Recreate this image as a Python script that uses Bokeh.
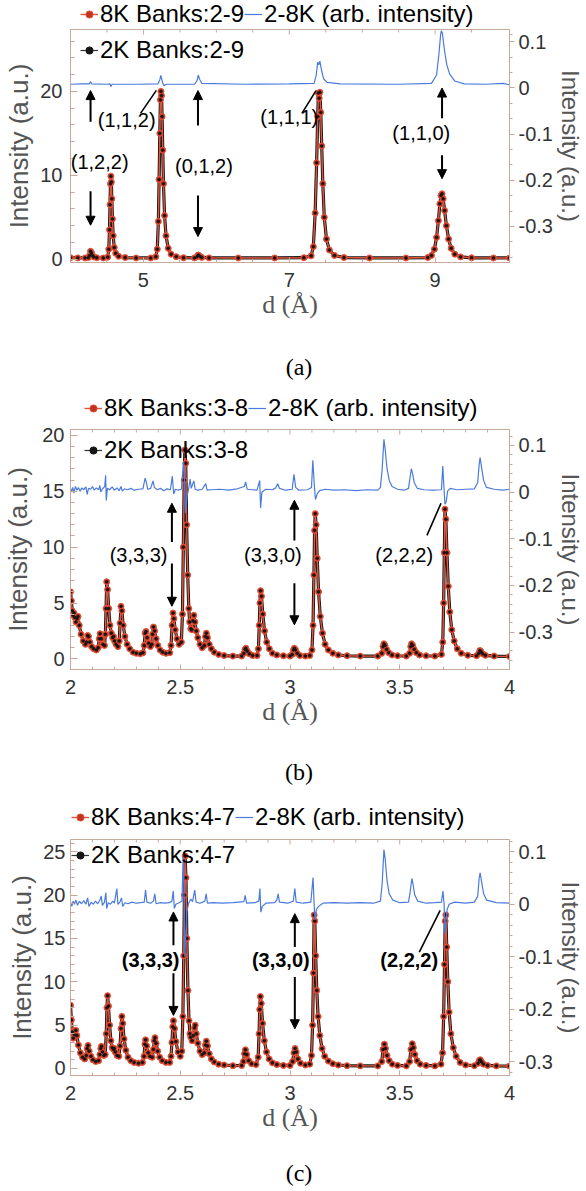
import math
from bokeh.plotting import figure
from bokeh.layouts import column
from bokeh.models import (Range1d, LinearAxis, FixedTicker, CustomJSTickFormatter,
                          Label, Arrow, NormalHead, Legend, LegendItem, Div)
from bokeh.embed import file_html
from bokeh.resources import INLINE

# ---------------- DATA ----------------
# Panel (a): d (Angstrom), 8K intensity (left axis)
red_a = [(4.00, 0.18), (4.10, 0.16), (4.20, 0.15), (4.245, 0.2), (4.262, 0.45), (4.275, 0.95),
         (4.288, 0.75), (4.30, 0.45), (4.32, 0.28), (4.36, 0.18), (4.45, 0.15), (4.51, 0.25),
         (4.525, 1.2), (4.535, 3.5), (4.542, 6.5), (4.548, 9.0), (4.554, 9.9), (4.560, 9.2),
         (4.567, 7.2), (4.575, 4.8), (4.585, 2.8), (4.60, 1.4), (4.62, 0.7), (4.66, 0.35),
         (4.75, 0.2), (4.90, 0.15), (5.10, 0.15), (5.17, 0.3), (5.19, 1.2), (5.205, 4.5),
         (5.215, 9.5), (5.225, 15.0), (5.233, 19.0), (5.240, 20.0), (5.248, 19.5), (5.256, 17.0),
         (5.265, 13.0), (5.275, 9.0), (5.29, 5.2), (5.31, 2.8), (5.34, 1.3), (5.38, 0.6),
         (5.45, 0.3), (5.55, 0.18), (5.70, 0.16), (5.735, 0.3), (5.752, 0.5), (5.77, 0.38),
         (5.80, 0.22), (5.90, 0.16), (6.30, 0.15), (6.80, 0.15), (7.20, 0.18), (7.30, 0.4),
         (7.33, 1.5), (7.355, 5.5), (7.375, 11.5), (7.39, 17.0), (7.40, 19.8), (7.41, 19.2),
         (7.42, 19.9), (7.432, 17.5), (7.445, 13.5), (7.46, 9.0), (7.48, 5.0), (7.51, 2.4),
         (7.55, 1.1), (7.62, 0.45), (7.75, 0.2), (8.10, 0.15), (8.60, 0.15), (8.90, 0.2),
         (8.95, 0.45), (8.99, 1.2), (9.02, 2.6), (9.045, 4.6), (9.065, 6.6), (9.08, 7.6),
         (9.095, 7.8), (9.11, 7.2), (9.13, 5.8), (9.155, 4.0), (9.185, 2.4), (9.22, 1.3),
         (9.27, 0.6), (9.35, 0.28), (9.50, 0.17), (9.80, 0.15), (10.02, 0.15)]
# Panel (a): 2-8K difference (right axis)
blue_a = [(4.00, 0.008), (4.15, 0.009), (4.26, 0.009), (4.275, 0.014), (4.29, 0.009), (4.50, 0.008),
          (4.54, 0.009), (4.555, 0.003), (4.57, 0.008), (4.90, 0.008), (5.20, 0.009), (5.225, 0.018),
          (5.238, 0.027), (5.25, 0.02), (5.262, 0.012), (5.28, 0.005), (5.32, 0.008), (5.70, 0.008),
          (5.735, 0.016), (5.752, 0.028), (5.77, 0.019), (5.80, 0.010), (6.40, 0.008), (7.00, 0.009),
          (7.34, 0.010), (7.37, 0.028), (7.39, 0.056), (7.405, 0.05), (7.42, 0.058), (7.44, 0.040),
          (7.47, 0.02), (7.52, 0.012), (7.70, 0.009), (8.50, 0.008), (8.95, 0.010), (9.02, 0.028),
          (9.05, 0.07), (9.075, 0.115), (9.086, 0.124), (9.10, 0.118), (9.13, 0.08), (9.16, 0.05),
          (9.20, 0.03), (9.27, 0.015), (9.40, 0.009), (9.70, 0.008), (9.93, 0.010), (10.02, 0.007)]

# Panel (b)
red_b = [(2.000, 6.0), (2.004, 5.2), (2.008, 4.3), (2.012, 3.9), (2.016, 4.1), (2.020, 3.7),
         (2.025, 3.3), (2.030, 3.6), (2.034, 3.8), (2.040, 3.0), (2.048, 2.2), (2.058, 1.6),
         (2.068, 1.3), (2.074, 1.5), (2.078, 2.1), (2.082, 2.0), (2.088, 1.5), (2.096, 1.1),
         (2.106, 0.9), (2.118, 0.8), (2.126, 1.0), (2.131, 1.8), (2.135, 2.25), (2.140, 1.8),
         (2.148, 1.3), (2.155, 1.2), (2.159, 2.2), (2.162, 4.5), (2.165, 6.9), (2.169, 6.2),
         (2.174, 4.5), (2.180, 3.0), (2.186, 2.3), (2.192, 1.9), (2.196, 2.0), (2.201, 1.6),
         (2.208, 1.3), (2.216, 1.1), (2.222, 1.6), (2.226, 3.2), (2.230, 4.7), (2.234, 4.3),
         (2.240, 3.0), (2.248, 2.0), (2.258, 1.3), (2.270, 0.9), (2.285, 0.6), (2.300, 0.5),
         (2.318, 0.45), (2.330, 0.55), (2.336, 1.2), (2.340, 2.3), (2.344, 2.45), (2.349, 1.9),
         (2.356, 1.4), (2.364, 1.1), (2.370, 1.3), (2.374, 2.2), (2.378, 2.85), (2.383, 2.5),
         (2.390, 1.8), (2.398, 1.2), (2.408, 0.8), (2.420, 0.6), (2.435, 0.5), (2.452, 0.55),
         (2.458, 1.2), (2.463, 3.0), (2.467, 4.1), (2.471, 3.6), (2.477, 2.6), (2.485, 1.8),
         (2.495, 1.3), (2.505, 1.5), (2.510, 4.0), (2.514, 10.0), (2.518, 16.0), (2.521, 18.7),
         (2.525, 17.5), (2.529, 12.0), (2.534, 7.5), (2.539, 4.5), (2.543, 3.3), (2.548, 2.7),
         (2.553, 2.6), (2.558, 3.4), (2.562, 3.9), (2.567, 3.3), (2.573, 2.5), (2.580, 1.9),
         (2.590, 1.3), (2.600, 1.0), (2.610, 1.2), (2.615, 2.0), (2.619, 2.3), (2.624, 1.9),
         (2.632, 1.3), (2.642, 0.9), (2.655, 0.6), (2.675, 0.4), (2.700, 0.3), (2.740, 0.25),
         (2.780, 0.25), (2.790, 0.5), (2.795, 0.85), (2.799, 0.95), (2.805, 0.7), (2.815, 0.45),
         (2.830, 0.3), (2.850, 0.3), (2.856, 0.9), (2.860, 3.0), (2.863, 5.0), (2.866, 6.1),
         (2.870, 5.6), (2.876, 4.0), (2.884, 2.5), (2.894, 1.5), (2.906, 0.9), (2.920, 0.5),
         (2.940, 0.35), (2.970, 0.28), (3.000, 0.25), (3.010, 0.4), (3.016, 0.8), (3.020, 0.95),
         (3.025, 0.8), (3.033, 0.5), (3.045, 0.3), (3.070, 0.25), (3.090, 0.3), (3.100, 0.8),
         (3.105, 3.0), (3.109, 7.5), (3.112, 11.5), (3.115, 13.0), (3.119, 12.0), (3.124, 9.0),
         (3.130, 6.0), (3.138, 3.8), (3.148, 2.3), (3.160, 1.3), (3.175, 0.8), (3.195, 0.5),
         (3.220, 0.35), (3.260, 0.28), (3.320, 0.25), (3.400, 0.25), (3.418, 0.5), (3.424, 1.1),
         (3.428, 1.35), (3.433, 1.2), (3.440, 0.85), (3.450, 0.55), (3.465, 0.35), (3.490, 0.28),
         (3.530, 0.25), (3.545, 0.5), (3.550, 1.1), (3.554, 1.35), (3.559, 1.2), (3.566, 0.85),
         (3.576, 0.55), (3.590, 0.35), (3.620, 0.28), (3.660, 0.25), (3.690, 0.4), (3.696, 1.5),
         (3.700, 5.0), (3.703, 9.5), (3.706, 13.4), (3.710, 12.5), (3.715, 9.5), (3.721, 6.5),
         (3.728, 4.2), (3.737, 2.6), (3.748, 1.6), (3.762, 0.9), (3.780, 0.5), (3.810, 0.32),
         (3.850, 0.28), (3.860, 0.5), (3.865, 0.75), (3.870, 0.65), (3.878, 0.45), (3.890, 0.32),
         (3.930, 0.25), (4.000, 0.22)]
blue_b = [(2.000, 0.008), (2.005, 0.0), (2.010, 0.01), (2.016, -0.002), (2.022, 0.012), (2.030, 0.004),
          (2.036, 0.010), (2.044, 0.002), (2.052, 0.009), (2.060, 0.005), (2.070, 0.011), (2.076, -0.005),
          (2.082, 0.008), (2.092, 0.006), (2.100, 0.012), (2.108, 0.004), (2.118, 0.009), (2.128, 0.005),
          (2.134, 0.014), (2.138, 0.0), (2.146, 0.007), (2.156, 0.012), (2.160, 0.036), (2.163, -0.018),
          (2.168, 0.008), (2.178, 0.005), (2.190, 0.011), (2.200, 0.004), (2.212, 0.009), (2.222, 0.003),
          (2.230, 0.012), (2.236, 0.002), (2.246, 0.007), (2.260, 0.005), (2.275, 0.008), (2.290, 0.004),
          (2.310, 0.006), (2.330, 0.007), (2.340, 0.030), (2.345, 0.022), (2.352, 0.006), (2.365, 0.008),
          (2.376, 0.024), (2.382, 0.01), (2.395, 0.005), (2.410, 0.008), (2.425, 0.003), (2.440, 0.007),
          (2.455, 0.005), (2.464, 0.034), (2.470, -0.004), (2.478, 0.006), (2.490, 0.004), (2.505, 0.006),
          (2.515, 0.065), (2.519, 0.03), (2.524, -0.045), (2.530, -0.01), (2.537, 0.004), (2.545, 0.028),
          (2.550, 0.008), (2.562, 0.024), (2.568, 0.006), (2.580, 0.004), (2.600, 0.006), (2.616, 0.018),
          (2.622, 0.004), (2.640, 0.005), (2.680, 0.006), (2.720, 0.004), (2.760, 0.007), (2.792, 0.012),
          (2.798, 0.022), (2.805, 0.006), (2.830, 0.005), (2.850, 0.004), (2.862, 0.025), (2.866, -0.034),
          (2.872, 0.0), (2.890, 0.006), (2.920, 0.005), (2.935, 0.009), (2.944, 0.018), (2.952, 0.008),
          (2.980, 0.004), (3.010, 0.006), (3.018, 0.038), (3.026, 0.01), (3.040, 0.004), (3.080, 0.005),
          (3.098, 0.010), (3.104, 0.068), (3.110, 0.02), (3.116, -0.016), (3.124, -0.004), (3.135, 0.003),
          (3.160, 0.006), (3.200, 0.004), (3.250, 0.005), (3.300, 0.003), (3.350, 0.005), (3.400, 0.004),
          (3.412, 0.01), (3.420, 0.05), (3.428, 0.113), (3.434, 0.09), (3.442, 0.05), (3.452, 0.025),
          (3.465, 0.012), (3.490, 0.006), (3.520, 0.004), (3.540, 0.008), (3.548, 0.035), (3.553, 0.05),
          (3.558, 0.04), (3.566, 0.02), (3.580, 0.008), (3.610, 0.005), (3.650, 0.004), (3.690, 0.005),
          (3.696, 0.056), (3.700, 0.02), (3.706, -0.026), (3.712, -0.02), (3.718, 0.002), (3.730, 0.008),
          (3.760, 0.005), (3.800, 0.006), (3.840, 0.007), (3.855, 0.02), (3.862, 0.06), (3.866, 0.074),
          (3.872, 0.055), (3.882, 0.025), (3.895, 0.01), (3.930, 0.006), (3.970, 0.004), (4.000, 0.006)]

# Panel (c)
red_c = [(2.000, 7.3), (2.004, 5.6), (2.008, 4.2), (2.013, 3.5), (2.018, 3.9), (2.024, 4.4),
         (2.029, 3.8), (2.036, 2.7), (2.045, 1.8), (2.055, 1.3), (2.065, 1.1), (2.072, 1.5),
         (2.076, 2.3), (2.080, 2.65), (2.085, 2.0), (2.093, 1.4), (2.102, 1.0), (2.115, 0.8),
         (2.128, 0.9), (2.134, 1.6), (2.138, 2.3), (2.141, 2.55), (2.146, 1.9), (2.152, 1.5),
         (2.158, 1.6), (2.163, 4.0), (2.166, 7.0), (2.169, 8.4), (2.173, 7.2), (2.178, 5.0),
         (2.184, 3.2), (2.190, 2.4), (2.196, 2.2), (2.199, 2.3), (2.204, 1.9), (2.212, 1.5),
         (2.220, 1.4), (2.226, 2.6), (2.230, 4.6), (2.234, 6.0), (2.238, 5.2), (2.244, 3.4),
         (2.252, 2.1), (2.262, 1.3), (2.275, 0.9), (2.290, 0.7), (2.310, 0.6), (2.328, 0.7),
         (2.335, 1.4), (2.339, 2.8), (2.342, 3.3), (2.347, 2.6), (2.354, 1.8), (2.362, 1.4),
         (2.372, 1.3), (2.378, 2.2), (2.382, 3.2), (2.385, 3.55), (2.390, 2.9), (2.397, 2.0),
         (2.406, 1.3), (2.418, 0.9), (2.435, 0.7), (2.452, 0.7), (2.458, 1.4), (2.462, 3.0),
         (2.466, 4.8), (2.469, 5.5), (2.474, 4.6), (2.480, 3.1), (2.490, 1.9), (2.500, 1.4),
         (2.507, 2.0), (2.512, 6.0), (2.516, 13.0), (2.519, 20.0), (2.522, 24.5), (2.526, 22.0),
         (2.530, 15.0), (2.535, 9.0), (2.540, 5.5), (2.544, 4.0), (2.548, 3.6), (2.554, 3.2),
         (2.560, 3.8), (2.565, 4.7), (2.568, 5.0), (2.573, 4.0), (2.580, 2.9), (2.590, 2.0),
         (2.600, 1.6), (2.610, 1.8), (2.615, 2.7), (2.619, 3.15), (2.624, 2.6), (2.632, 1.7),
         (2.642, 1.1), (2.655, 0.75), (2.675, 0.5), (2.700, 0.4), (2.740, 0.32), (2.780, 0.35),
         (2.788, 0.8), (2.793, 1.7), (2.797, 2.15), (2.803, 1.6), (2.812, 0.9), (2.825, 0.55),
         (2.845, 0.45), (2.855, 1.3), (2.859, 4.0), (2.862, 6.8), (2.865, 8.3), (2.869, 7.5),
         (2.875, 5.2), (2.883, 3.2), (2.893, 1.9), (2.905, 1.1), (2.920, 0.65), (2.940, 0.45),
         (2.970, 0.35), (3.000, 0.35), (3.012, 0.8), (3.018, 1.8), (3.023, 2.3), (3.028, 1.9),
         (3.036, 1.1), (3.048, 0.6), (3.070, 0.4), (3.090, 0.5), (3.098, 1.5), (3.103, 5.0),
         (3.107, 11.0), (3.110, 17.7), (3.113, 17.0), (3.117, 13.0), (3.122, 9.0), (3.128, 6.0),
         (3.136, 3.8), (3.146, 2.3), (3.158, 1.4), (3.175, 0.85), (3.195, 0.55), (3.220, 0.4),
         (3.260, 0.32), (3.320, 0.3), (3.400, 0.3), (3.418, 0.8), (3.424, 2.2), (3.430, 2.8),
         (3.435, 2.3), (3.442, 1.5), (3.452, 0.9), (3.466, 0.5), (3.490, 0.35), (3.530, 0.3),
         (3.545, 0.8), (3.551, 2.2), (3.557, 2.85), (3.562, 2.4), (3.569, 1.6), (3.579, 0.9),
         (3.593, 0.5), (3.620, 0.35), (3.660, 0.3), (3.688, 0.5), (3.695, 1.8), (3.700, 6.0),
         (3.704, 12.0), (3.707, 17.0), (3.710, 17.7), (3.714, 14.0), (3.719, 10.0), (3.725, 6.5),
         (3.733, 4.0), (3.744, 2.4), (3.757, 1.4), (3.775, 0.7), (3.800, 0.4), (3.840, 0.32),
         (3.857, 0.6), (3.863, 0.95), (3.867, 1.0), (3.873, 0.75), (3.882, 0.5), (3.900, 0.35),
         (3.940, 0.3), (4.000, 0.28)]
blue_c = [(2.000, 0.004), (2.006, -0.004), (2.012, 0.006), (2.018, 0.0), (2.024, 0.008), (2.032, -0.002),
          (2.040, 0.006), (2.050, 0.001), (2.060, 0.007), (2.070, 0.0), (2.078, 0.012), (2.084, -0.004),
          (2.094, 0.004), (2.104, 0.0), (2.114, 0.006), (2.124, 0.001), (2.134, 0.008), (2.140, 0.016),
          (2.145, -0.002), (2.155, 0.004), (2.161, 0.022), (2.165, -0.008), (2.172, 0.003), (2.182, 0.0),
          (2.192, 0.006), (2.200, 0.002), (2.211, 0.03), (2.216, 0.0), (2.225, 0.004), (2.232, 0.012),
          (2.238, -0.004), (2.248, 0.003), (2.262, 0.001), (2.280, 0.004), (2.300, 0.002), (2.320, 0.003),
          (2.336, 0.004), (2.342, 0.027), (2.348, 0.004), (2.365, 0.002), (2.378, 0.006), (2.384, 0.02),
          (2.390, 0.001), (2.410, 0.003), (2.430, 0.002), (2.450, 0.003), (2.462, 0.006), (2.468, 0.025),
          (2.473, -0.008), (2.480, 0.0), (2.495, 0.003), (2.508, 0.006), (2.513, 0.09), (2.517, 0.02),
          (2.521, -0.1), (2.525, -0.06), (2.530, -0.015), (2.538, 0.002), (2.548, 0.01), (2.556, 0.005),
          (2.566, 0.027), (2.572, 0.004), (2.590, 0.002), (2.612, 0.006), (2.618, 0.02), (2.624, 0.002),
          (2.650, 0.003), (2.690, 0.002), (2.740, 0.003), (2.790, 0.005), (2.796, 0.017), (2.802, 0.002),
          (2.840, 0.003), (2.858, 0.006), (2.863, 0.03), (2.867, -0.015), (2.874, -0.004), (2.890, 0.002),
          (2.930, 0.003), (2.940, 0.008), (2.946, 0.02), (2.952, 0.004), (2.990, 0.002), (3.015, 0.006),
          (3.022, 0.03), (3.028, 0.004), (3.060, 0.002), (3.095, 0.004), (3.105, 0.051), (3.110, 0.0),
          (3.114, -0.03), (3.120, -0.01), (3.130, -0.004), (3.150, 0.002), (3.200, 0.003), (3.260, 0.002),
          (3.320, 0.003), (3.380, 0.002), (3.412, 0.006), (3.420, 0.04), (3.428, 0.104), (3.434, 0.085),
          (3.442, 0.045), (3.452, 0.02), (3.468, 0.008), (3.500, 0.003), (3.540, 0.004), (3.548, 0.025),
          (3.555, 0.049), (3.560, 0.04), (3.568, 0.018), (3.582, 0.006), (3.620, 0.002), (3.660, 0.003),
          (3.690, 0.004), (3.697, 0.025), (3.702, 0.0), (3.706, -0.056), (3.711, -0.03), (3.716, -0.01),
          (3.725, 0.0), (3.750, 0.004), (3.800, 0.002), (3.840, 0.004), (3.855, 0.015), (3.862, 0.05),
          (3.866, 0.06), (3.872, 0.045), (3.882, 0.02), (3.896, 0.008), (3.940, 0.003), (4.000, 0.002)]

# Legend texts
names_a = ["8K Banks:2-9", "2-8K (arb. intensity)", "2K Banks:2-9"]
names_b = ["8K Banks:3-8", "2-8K (arb. intensity)", "2K Banks:3-8"]
names_c = ["8K Banks:4-7", "2-8K (arb. intensity)", "2K Banks:4-7"]
# Peak annotation texts
hkl_a = ["(1,2,2)", "(1,1,2)", "(0,1,2)", "(1,1,1)", "(1,1,0)"]
hkl_b = ["(3,3,3)", "(3,3,0)", "(2,2,2)"]
hkl_c = ["(3,3,3)", "(3,3,0)", "(2,2,2)"]
captions = ["(a)", "(b)", "(c)"]
# Tick values
xt_a = [5, 7, 9]
yt_a = [0, 10, 20]
xt_bc = [2, 2.5, 3, 3.5, 4]
yt_b = [0, 5, 10, 15, 20]
yt_c = [0, 5, 10, 15, 20, 25]
rt = [-0.3, -0.2, -0.1, 0, 0.1]

# ---------------- STYLE ----------------
FRAME = "#c9a99a"
RED_LINE = "#e4533a"
RED_FILL = "#c0341f"
BLACK = "#151515"
BLUE = "#4a7bdc"
TICK_TXT = "#333333"
LABEL_TXT = "#555555"
SANS = "Liberation Sans"
SERIF = "Liberation Serif"
W = 586
BL, BR = 70, 74   # frame borders (shared by all plots of the column)

FMT = "return String(Math.round(tick*1000)/1000);"
LEG = dict(orientation="horizontal", label_text_font=SANS, label_text_font_size="24px",
           label_text_color="black", glyph_width=18, glyph_height=18, label_standoff=2,
           spacing=0, padding=0, margin=0, border_line_alpha=0, background_fill_alpha=0,
           label_height=18)


def style_axis(ax, tin, tout, mtin, mtout, standoff):
    ax.axis_line_color = FRAME
    ax.major_tick_line_color = FRAME
    ax.minor_tick_line_color = FRAME
    ax.major_tick_in = tin
    ax.major_tick_out = tout
    ax.minor_tick_in = mtin
    ax.minor_tick_out = mtout
    ax.major_label_text_font = SANS
    ax.major_label_text_font_size = "20px"
    ax.major_label_text_color = TICK_TXT
    ax.major_label_standoff = standoff
    ax.formatter = CustomJSTickFormatter(code=FMT)


def legend_strip(names, red, blue, h, lx):
    """Top legend row (sits just above the frame in the reference)."""
    s = figure(width=W, height=h, x_range=Range1d(0, 1), y_range=Range1d(0, 1),
               output_backend="svg", toolbar_location=None,
               min_border_left=BL, min_border_right=BR, min_border_top=0, min_border_bottom=0,
               x_axis_location=None, y_axis_location=None)
    s.outline_line_color = None
    s.xgrid.visible = False
    s.ygrid.visible = False
    d, i8 = zip(*red)
    db, vb = zip(*blue)
    # the series lie outside this strip's (0..1) window: only their legend glyphs show
    r1 = s.line(list(d), list(i8), line_color=RED_LINE, line_width=1.4)
    r2 = s.scatter(list(d), list(i8), size=6, marker="circle", fill_color=RED_FILL, line_color=RED_LINE)
    b1 = s.line(list(db), list(vb), line_color=BLUE, line_width=1.2)
    s.add_layout(Legend(items=[LegendItem(label=names[0], renderers=[r1, r2]),
                               LegendItem(label=names[1], renderers=[b1])],
                        location=(lx, 0), **LEG))
    return s


def panel(cfg):
    fh = cfg["h"] - cfg["bt"] - cfg["bb"]
    p = figure(width=W, height=cfg["h"], x_range=Range1d(*cfg["xr"]), y_range=Range1d(*cfg["yr"]),
               output_backend="svg", toolbar_location=None,
               min_border_left=BL, min_border_right=BR,
               min_border_top=cfg["bt"], min_border_bottom=cfg["bb"])
    p.xgrid.visible = False
    p.ygrid.visible = False
    p.outline_line_color = FRAME
    p.extra_y_ranges = {"r": Range1d(*cfg["rr"])}

    xa = p.xaxis[0]
    style_axis(xa, 5, 0, 3, 0, 10)
    xa.ticker = FixedTicker(ticks=cfg["xt"], minor_ticks=cfg["xminor"])
    xa.axis_label = "d (Å)"
    xa.axis_label_text_font = SERIF
    xa.axis_label_text_font_size = "26px"
    xa.axis_label_text_font_style = "normal"
    xa.axis_label_text_color = LABEL_TXT
    xa.axis_label_standoff = 0

    ya = p.yaxis[0]
    style_axis(ya, 7, 0, 4, 0, cfg["ysd"])
    ya.ticker = FixedTicker(ticks=cfg["yt"], minor_ticks=cfg["yminor"])
    ya.axis_label = "Intensity (a.u.)"
    ya.axis_label_text_font = SANS
    ya.axis_label_text_font_size = "26px"
    ya.axis_label_text_font_style = "normal"
    ya.axis_label_text_color = LABEL_TXT
    ya.axis_label_standoff = cfg["yls"]

    ra = LinearAxis(y_range_name="r")
    style_axis(ra, 0, 5, 0, 3, 4)
    ra.ticker = FixedTicker(ticks=rt, minor_ticks=cfg["rminor"])
    ra.axis_label = "Intensity (a.u.)"
    ra.axis_label_text_font = SANS
    ra.axis_label_text_font_size = "24px"
    ra.axis_label_text_font_style = "normal"
    ra.axis_label_text_color = LABEL_TXT
    ra.axis_label_standoff = 1
    p.add_layout(ra, "right")

    # tick marks on the top edge of the frame (mirror of the bottom ticks)
    y0, y1 = cfg["yr"]
    per_px = (y1 - y0) / fh
    tops = list(cfg["xt"])
    mins = list(cfg["xminor"])
    p.segment(x0=tops, y0=[y1] * len(tops), x1=tops, y1=[y1 - 5 * per_px] * len(tops),
              line_color=FRAME, line_width=1)
    p.segment(x0=mins, y0=[y1] * len(mins), x1=mins, y1=[y1 - 3 * per_px] * len(mins),
              line_color=FRAME, line_width=1)

    d, i8 = zip(*cfg["red"])
    i2 = i8  # 2K trace coincides with 8K at this scale
    db, vb = zip(*cfg["blue"])
    p.line(list(d), list(i2), line_color=BLACK, line_width=3.2)
    kthin = p.line(list(d), list(i2), line_color="#333333", line_width=1.2)
    p.line(list(d), list(i8), line_color=RED_LINE, line_width=1.4)
    p.scatter(list(d), list(i8), size=6, marker="circle", fill_color=RED_FILL,
              line_color=RED_LINE, line_width=1)
    ks = p.scatter(list(d), list(i2), size=2.5, marker="circle", fill_color=BLACK, line_color=BLACK)
    p.line(list(db), list(vb), line_color=BLUE, line_width=1.2, y_range_name="r")

    p.add_layout(Legend(items=[LegendItem(label=cfg["names"][2], renderers=[kthin, ks])],
                        location=(cfg["lx"], cfg["ly2"]), **LEG))

    for (txt, (x, y)) in zip(cfg["hkl"], cfg["hkl_xy"]):
        p.add_layout(Label(x=x, y=y, text=txt, text_align="center", text_baseline="middle",
                           text_font=SANS, text_font_size="20px",
                           text_font_style="bold" if cfg["bold"] else "normal", text_color="black"))
    for (x, ya0, ya1) in cfg["arrows"]:
        p.add_layout(Arrow(x_start=x, y_start=ya0, x_end=x, y_end=ya1, line_width=2, line_color="black",
                           end=NormalHead(size=9, fill_color="black", line_color="black", line_width=1)))
    for (x0, yy0, x1, yy1) in cfg["lines"]:
        p.add_layout(Arrow(x_start=x0, y_start=yy0, x_end=x1, y_end=yy1, line_width=1.6,
                           line_color="black", end=None))
    return p


def caption(txt, h):
    return Div(text=txt, width=W, height=h, margin=(0, 0, 0, 0),
               styles={"text-align": "center", "font-family": SERIF, "font-size": "24px",
                       "line-height": "%dpx" % h, "text-indent": "12px", "color": "black"})


pa = panel(dict(
    h=324, xr=(4.0, 10.02), yr=(-0.39, 27.38), rr=(-0.378, 0.1266),
    bt=1, bb=90,
    xt=xt_a, xminor=[4.5, 5.5, 6.0, 6.5, 7.5, 8.0, 8.5, 9.5],
    yt=yt_a, yminor=[2, 4, 6, 8, 12, 14, 16, 18, 22, 24, 26],
    rminor=[-0.3667, -0.3333, -0.2667, -0.2333, -0.1667, -0.1333, -0.0667, -0.0333, 0.0333, 0.0667, 0.1167],
    ysd=8, yls=3, red=red_a, blue=blue_a, names=names_a, lx=10, ly2=198,
    hkl=hkl_a, hkl_xy=[(4.40, 11.6), (4.77, 16.55), (5.83, 11.07), (7.0, 17.0), (8.81, 15.0)], bold=False,
    arrows=[(4.275, 16.4, 20.1), (4.275, 8.1, 4.05), (5.748, 15.95, 20.1), (5.748, 7.6, 2.7),
            (9.095, 16.8, 20.4), (9.095, 12.4, 9.6)],
    lines=[(4.96, 17.38, 5.177, 20.12), (7.173, 17.38, 7.367, 20.1)]))

minor_bc_x = [2.1, 2.2, 2.3, 2.4, 2.6, 2.7, 2.8, 2.9, 3.1, 3.2, 3.3, 3.4, 3.6, 3.7, 3.8, 3.9]
minor_r_bc = [-0.36, -0.34, -0.32, -0.28, -0.26, -0.24, -0.22, -0.18, -0.16, -0.14, -0.12,
              -0.08, -0.06, -0.04, -0.02, 0.02, 0.04, 0.06, 0.08, 0.12]

pb = panel(dict(
    h=335, xr=(2.0, 4.0), yr=(-0.95, 20.53), rr=(-0.380, 0.134),
    bt=7, bb=88,
    xt=xt_bc, xminor=minor_bc_x,
    yt=yt_b, yminor=[1, 2, 3, 4, 6, 7, 8, 9, 11, 12, 13, 14, 16, 17, 18, 19],
    rminor=minor_r_bc,
    ysd=6, yls=6, red=red_b, blue=blue_b, names=names_b, lx=14, ly2=205,
    hkl=hkl_b, hkl_xy=[(2.31, 9.27), (2.922, 9.27), (3.52, 9.27)], bold=False,
    arrows=[(2.462, 10.46, 13.93), (2.462, 8.53, 4.71), (3.02, 10.6, 14.2), (3.02, 6.76, 3.05)],
    lines=[(3.624, 11.05, 3.688, 13.93)]))

pc = panel(dict(
    h=329, xr=(2.0, 4.0), yr=(-0.81, 26.41), rr=(-0.3257, 0.1232),
    bt=8, bb=85,
    xt=xt_bc, xminor=minor_bc_x,
    yt=yt_c, yminor=[1, 2, 3, 4, 6, 7, 8, 9, 11, 12, 13, 14, 16, 17, 18, 19, 21, 22, 23, 24, 26],
    rminor=minor_r_bc,
    ysd=5, yls=3, red=red_c, blue=blue_c, names=names_c, lx=1, ly2=206,
    hkl=hkl_c, hkl_xy=[(2.365, 12.47), (2.958, 12.47), (3.543, 12.47)], bold=True,
    arrows=[(2.469, 14.2, 18.05), (2.469, 10.97, 6.12), (3.022, 14.0, 17.86), (3.022, 10.54, 4.58)],
    lines=[(3.589, 13.43, 3.684, 18.24)]))

layout = column(legend_strip(names_a, red_a, blue_a, 28, 10), pa, caption(captions[0], 30),
                legend_strip(names_b, red_b, blue_b, 40, 14), pb, caption(captions[1], 30),
                legend_strip(names_c, red_c, blue_c, 44, 1), pc, caption(captions[2], 26),
                spacing=0)
open("out.html", "w").write(file_html(layout, INLINE))
